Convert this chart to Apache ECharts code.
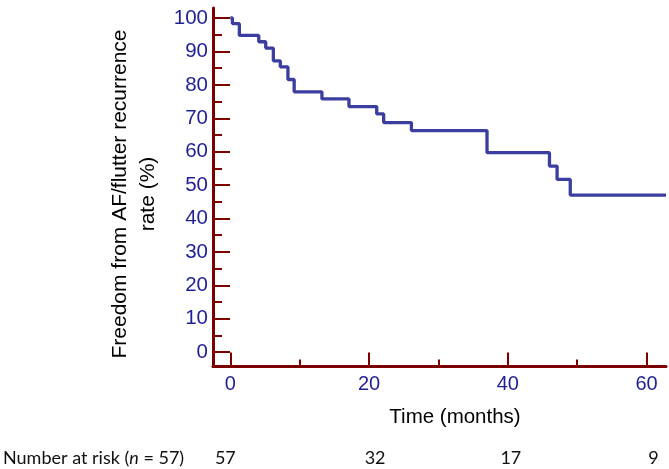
<!DOCTYPE html>
<html><head><meta charset="utf-8">
<script src="https://cdn.jsdelivr.net/npm/echarts@6/dist/echarts.min.js"></script>
<style>html,body{margin:0;padding:0;background:#fff}#c{width:669px;height:469px}</style>
</head><body><div id="c"></div>
<script>
// Kaplan-Meier step data (time in months, freedom %)
const times    = [0, 0.3, 1.3, 4.1, 5.1, 6.2, 7.2, 8.3, 9.2, 13.2, 17.1, 21.1, 22.1, 26.1, 37.0, 46.0, 47.1, 49.0, 62.8];
const survival = [100, 98.3, 94.8, 92.9, 91.0, 87.2, 85.4, 81.6, 77.9, 75.8, 73.5, 71.3, 68.7, 66.3, 59.7, 55.7, 51.7, 47.0, 47.0];
const yMajorTicks = [0, 10, 20, 30, 40, 50, 60, 70, 80, 90, 100];
const yMinorTicks = [5, 15, 25, 35, 45, 55, 65, 75, 85, 95];
const xMajorTicks = [0, 20, 40, 60];
const xMinorTicks = [10, 30, 50];
const riskTimes  = [0, 20, 40, 60];
const riskCounts = [57, 32, 17, 9];
const riskShift  = [-5, 6, 3, 7];

const AX = '#7d0000', LBL = '#1f1f96', LINE = '#3b3e9f';
const FONT = 'Liberation Sans, Arial, sans-serif';
const CAL = 'Lato, "Open Sans", sans-serif';
const XMIN = -2.5, XMAX = 62.8, YMIN = -4.3, YMAX = 103;

const chart = echarts.init(document.getElementById('c'), null, {renderer: 'canvas'});

chart.setOption({
  animation: false,
  grid: {left: 213, right: 3, top: 8, bottom: 102.5, containLabel: false},
  xAxis: [
    {type: 'value', min: XMIN, max: XMAX, position: 'bottom',
     axisLine: {show: true, onZero: false, lineStyle: {color: AX, width: 3}},
     axisTick: {show: true, inside: true, length: 14, customValues: xMajorTicks, lineStyle: {color: AX, width: 2}},
     axisLabel: {show: true, customValues: xMajorTicks, color: LBL, fontFamily: FONT, fontSize: 20, margin: 8},
     splitLine: {show: false}},
    {type: 'value', min: XMIN, max: XMAX, position: 'bottom',
     axisLine: {show: false, onZero: false},
     axisTick: {show: true, inside: true, length: 7, customValues: xMinorTicks, lineStyle: {color: AX, width: 2}},
     axisLabel: {show: false}, splitLine: {show: false}}
  ],
  yAxis: [
    {type: 'value', min: YMIN, max: YMAX, position: 'left',
     axisLine: {show: true, onZero: false, lineStyle: {color: AX, width: 3}},
     axisTick: {show: true, inside: true, length: 17, customValues: yMajorTicks, lineStyle: {color: AX, width: 2}},
     axisLabel: {show: true, customValues: yMajorTicks, color: LBL, fontFamily: FONT, fontSize: 20.5, margin: 5},
     splitLine: {show: false}},
    {type: 'value', min: YMIN, max: YMAX, position: 'left',
     axisLine: {show: false, onZero: false},
     axisTick: {show: true, inside: true, length: 9, customValues: yMinorTicks, lineStyle: {color: AX, width: 2}},
     axisLabel: {show: false}, splitLine: {show: false}}
  ],
  series: [{
    type: 'line', xAxisIndex: 0, yAxisIndex: 0, step: 'end', showSymbol: false, symbol: 'none',
    lineStyle: {color: LINE, width: 3.3}, clip: false,
    data: times.map((t, i) => [t, survival[i]])
  }]
});

const graphics = [
  {type: 'text', x: 134, y: 194, rotation: Math.PI / 2,
   style: {text: 'Freedom from AF/flutter recurrence\nrate (%)', fill: '#000', fontFamily: FONT, fontSize: 21,
           lineHeight: 28, align: 'center', verticalAlign: 'middle', textAlign: 'center', textVerticalAlign: 'middle'}},
  {type: 'text', x: 455, y: 417,
   style: {text: 'Time (months)', fill: '#000', fontFamily: FONT, fontSize: 20.5,
           align: 'center', verticalAlign: 'middle', textAlign: 'center', textVerticalAlign: 'middle'}},
  {type: 'text', x: 3, y: 458,
   style: {text: '{a|Number at risk (}{i|n}{a| = 57)}', fill: '#111',
           rich: {a: {fontFamily: CAL, fontSize: 18, fill: '#111'}, i: {fontFamily: CAL, fontSize: 18, fontStyle: 'italic', fill: '#111'}},
           align: 'left', verticalAlign: 'middle', textAlign: 'left', textVerticalAlign: 'middle'}}
];
riskTimes.forEach((t, i) => {
  const px = chart.convertToPixel({xAxisIndex: 0}, t) + riskShift[i];
  graphics.push({type: 'text', x: px, y: 458,
    style: {text: String(riskCounts[i]), fill: '#111', fontFamily: CAL, fontSize: 18,
            align: 'center', verticalAlign: 'middle', textAlign: 'center', textVerticalAlign: 'middle'}});
});
chart.setOption({graphic: graphics});
</script></body></html>
